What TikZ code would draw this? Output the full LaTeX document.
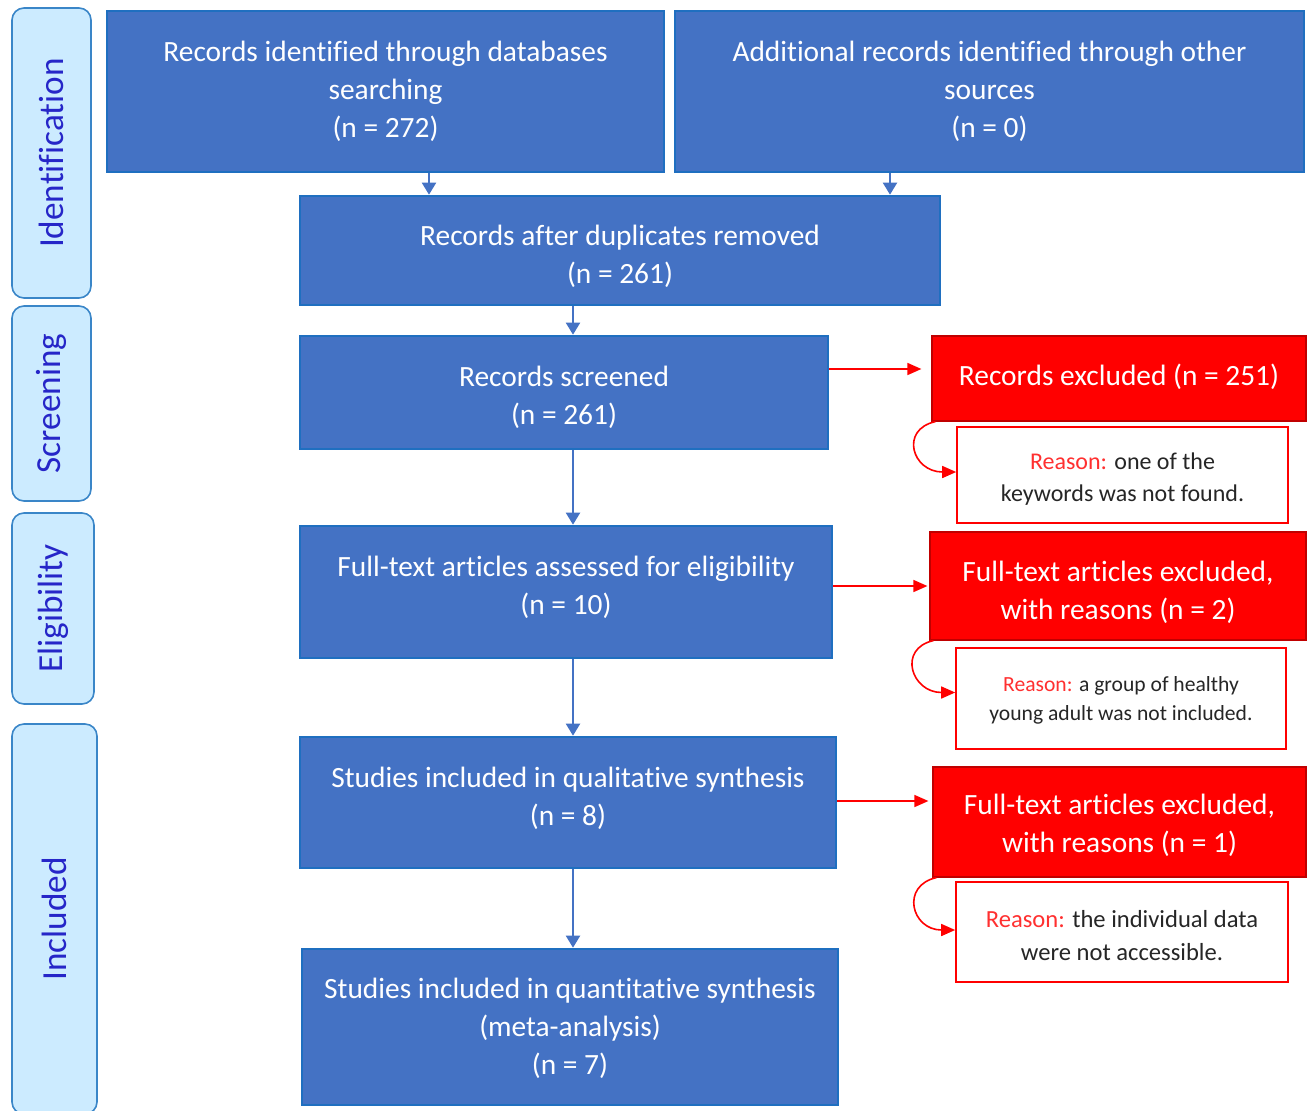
\documentclass[tikz,border=0pt]{standalone}
\usepackage{fontspec}
\setmainfont[Ligatures=NoCommon]{Carlito}
\usetikzlibrary{arrows.meta,calc}
\definecolor{bfill}{HTML}{4472C4}
\definecolor{bborder}{HTML}{1F6FC0}
\definecolor{sfill}{HTML}{CCEBFF}
\definecolor{sborder}{HTML}{3A86C8}
\definecolor{stext}{HTML}{2626C8}
\definecolor{rfill}{HTML}{FF0000}
\definecolor{rborder}{HTML}{C00000}
\definecolor{rtext}{HTML}{FF3030}
\definecolor{gtext}{HTML}{262626}
\tikzset{
  px/.style={x=0.5pt,y=-0.5pt},
  bluebox/.style={draw=bborder,fill=bfill,line width=1.3pt,inner sep=0pt},
  redbox/.style={draw=rborder,fill=rfill,line width=0.6pt,inner sep=0pt},
  boxtext/.style={text=white,align=center,inner sep=0pt,font=\fontsize{14.7}{19}\selectfont},
  reasonbox/.style={draw=rfill,fill=white,line width=0.8pt,inner sep=0pt},
  reasontext/.style={text=gtext,align=center,inner sep=0pt},
  stagebox/.style={draw=sborder,fill=sfill,line width=0.8pt,rounded corners=6pt,inner sep=0pt},
  stagetext/.style={rotate=90,text=stext,font=\fontsize{17.6}{20}\selectfont},
  barrow/.style={draw=bfill,line width=1pt,-{Triangle[length=6pt,width=7pt]}},
  rarrow/.style={draw=rfill,line width=0.8pt,-{Triangle[length=7pt,width=6pt]}},
}
\newcommand{\rsn}{\textcolor{rtext}{Reason:}}
\begin{document}
\begin{tikzpicture}[px]
\useasboundingbox (0,0) rectangle (1308,1110);
% stage labels
\node[stagebox,minimum width=39.5pt,minimum height=145pt] (S1) at (51.5,153) {};
\node[stagetext] (S1t) at (S1.center) {Identification};
\node[stagebox,minimum width=39.5pt,minimum height=97.5pt] (S2) at (51.5,403.5) {};
\node[stagetext] (S2t) at (S2.center) {Screening};
\node[stagebox,minimum width=41pt,minimum height=95.5pt] (S3) at (53,608.5) {};
\node[stagetext] (S3t) at (S3.center) {Eligibility};
\node[stagebox,minimum width=42.5pt,minimum height=195pt] (S4) at (54.5,919) {};
\node[stagetext] (S4t) at (S4.center) {Included};
% blue boxes
\node[bluebox,minimum width=278.5pt,minimum height=80.5pt] (B1) at (385.5,91.5) {};
\node[boxtext] (B1t) at (B1.center) {Records identified through databases\\searching\\(n = 272)};
\node[bluebox,minimum width=314.5pt,minimum height=80.5pt] (B2) at (989.5,91.5) {};
\node[boxtext] (B2t) at (B2.center) {Additional records identified through other\\sources\\(n = 0)};
\node[bluebox,minimum width=320pt,minimum height=54.5pt] (B3) at (620,250.5) {};
\node[boxtext] (B3t) at ([yshift=-3pt]B3.center) {Records after duplicates removed\\(n = 261)};
\node[bluebox,minimum width=264pt,minimum height=56.5pt] (B4) at (564,392.5) {};
\node[boxtext] (B4t) at ([yshift=-2.5pt]B4.center) {Records screened\\(n = 261)};
\node[bluebox,minimum width=266pt,minimum height=66pt] (B5) at (566,592) {};
\node[boxtext] (B5t) at ([yshift=2.5pt]B5.center) {Full-text articles assessed for eligibility\\(n = 10)};
\node[bluebox,minimum width=268pt,minimum height=65.5pt] (B6) at (568,802.5) {};
\node[boxtext] (B6t) at ([yshift=2pt]B6.center) {Studies included in qualitative synthesis\\(n = 8)};
\node[bluebox,minimum width=268pt,minimum height=78pt] (B7) at (570,1027) {};
\node[boxtext] (B7t) at ([yshift=-0.5pt]B7.center) {Studies included in quantitative synthesis\\(meta-analysis)\\(n = 7)};
% red boxes
\node[redbox,minimum width=187pt,minimum height=42.5pt] (R1) at (1119,378.5) {};
\node[boxtext] (R1t) at ([yshift=1pt]R1.center) {Records excluded (n = 251)};
\node[redbox,minimum width=188pt,minimum height=54pt] (R2) at (1118,586) {};
\node[boxtext] (R2t) at ([yshift=-3pt]R2.center) {Full-text articles excluded,\\with reasons (n = 2)};
\node[redbox,minimum width=186.5pt,minimum height=55pt] (R3) at (1119.5,822) {};
\node[boxtext] (R3t) at ([yshift=-1.5pt]R3.center) {Full-text articles excluded,\\with reasons (n = 1)};
% reason boxes
\node[reasonbox,minimum width=165.5pt,minimum height=48pt] (N1) at (1122.5,475) {};
\node[reasontext,font=\fontsize{12}{16}\selectfont] (N1t) at ([yshift=-2pt]N1.center) {\rsn{} one of the\\keywords was not found.};
\node[reasonbox,minimum width=165pt,minimum height=50.5pt] (N2) at (1121,698.5) {};
\node[reasontext,font=\fontsize{10.8}{14.5}\selectfont] (N2t) at ([yshift=-1pt]N2.center) {\rsn{} a group of healthy\\young adult was not included.};
\node[reasonbox,minimum width=166pt,minimum height=50pt] (N3) at (1122,932) {};
\node[reasontext,font=\fontsize{12.3}{16.5}\selectfont] (N3t) at ([yshift=-2pt]N3.center) {\rsn{} the individual data\\were not accessible.};
% coordinates for connector positions
\coordinate (ax) at (573,0);
% blue arrows
\draw[barrow] ([xshift=21.75pt]B1.south) -- ([xshift=21.75pt]B1.south |- B3.north);
\draw[barrow] ([xshift=-49.75pt]B2.south) -- ([xshift=-49.75pt]B2.south |- B3.north);
\draw[barrow] (B3.south -| ax) -- (B4.north -| ax);
\draw[barrow] (B4.south -| ax) -- (B5.north -| ax);
\draw[barrow] (B5.south -| ax) -- (B6.north -| ax);
\draw[barrow] (B6.south -| ax) -- (B7.north -| ax);
% red arrows
\draw[rarrow,shorten >=5pt] ([yshift=11.75pt]B4.east) -- ([yshift=11.75pt]B4.east -| R1.west);
\draw[rarrow,shorten >=1pt] ([yshift=3pt]B5.east) -- ([yshift=3pt]B5.east -| R2.west);
\draw[rarrow,shorten >=2pt] ([yshift=0.75pt]B6.east) -- ([yshift=0.75pt]B6.east -| R3.west);
% curved arrows
\draw[rarrow] ([xshift=2pt]R1.south west) .. controls +(-36,8) and +(-44,0) .. ([yshift=1.5pt]N1.west);
\draw[rarrow] ([xshift=2pt]R2.south west) .. controls +(-36,8) and +(-44,0) .. ([yshift=3pt]N2.west);
\draw[rarrow] ([xshift=2pt]R3.south west) .. controls +(-36,8) and +(-44,0) .. ([yshift=1pt]N3.west);
\end{tikzpicture}
\end{document}
